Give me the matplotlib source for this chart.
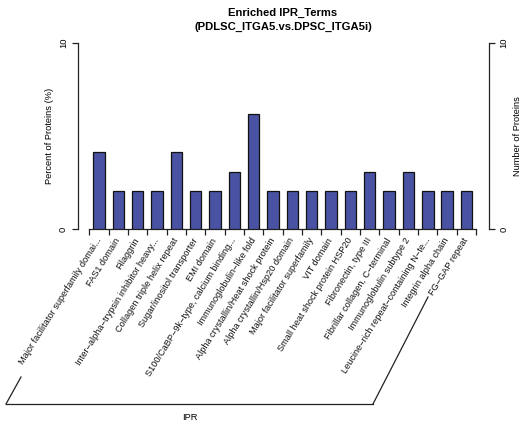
import matplotlib
matplotlib.use("Agg")
import matplotlib.pyplot as plt
from matplotlib.lines import Line2D
import matplotlib.transforms as mtransforms

plt.rcParams['font.family'] = ['Liberation Sans', 'DejaVu Sans']

terms = [
    "Major facilitator superfamily domai...",
    "FAS1 domain",
    "Filaggrin",
    "Inter\u2212alpha\u2212trypsin inhibitor heavy...",
    "Collagen triple helix repeat",
    "Sugar/inositol transporter",
    "EMI domain",
    "S100/CaBP\u22129k\u2212type, calcium binding...",
    "Immunoglobulin\u2212like fold",
    "Alpha crystallin/Heat shock protein",
    "Alpha crystallin/Hsp20 domain",
    "Major facilitator superfamily",
    "VIT domain",
    "Small heat shock protein HSP20",
    "Fibronectin, type III",
    "Fibrillar collagen, C\u2212terminal",
    "Immunoglobulin subtype 2",
    "Leucine\u2212rich repeat\u2212containing N\u2212te...",
    "Integrin alpha chain",
    "FG\u2212GAP repeat",
]
percent = [4.12, 2.06, 2.06, 2.06, 4.12, 2.06, 2.06, 3.09, 6.19, 2.06,
           2.06, 2.06, 2.06, 2.06, 3.09, 2.06, 3.09, 2.06, 2.06, 2.06]
y_ticks = [0, 10]

W, H = 519, 424
fig = plt.figure(figsize=(W / 100, H / 100), dpi=100)
fig.patch.set_facecolor('white')

left, right, top, bottom = 78, 489, 42.7, 229.3
ax = fig.add_axes([left / W, 1 - bottom / H, (right - left) / W, (bottom - top) / H])

x = list(range(len(terms)))
ax.bar(x, percent, width=0.6, color='#4A53A3', edgecolor='#111111', linewidth=0.9, zorder=3)

ax.set_xlim(-1.085, 20.17)
ax.set_ylim(0, 10)

ax.spines['top'].set_visible(False)
for s in ['left', 'right', 'bottom']:
    ax.spines[s].set_linewidth(0.9)
    ax.spines[s].set_color('#222222')
ax.spines['left'].set_bounds(0, 10)
ax.spines['right'].set_bounds(0, 10)
ax.spines['bottom'].set_bounds(-0.5, len(terms) - 0.5)

ax.set_xticks([i - 0.5 for i in range(len(terms) + 1)])
ax.set_xticklabels([])
ax.tick_params(axis='x', direction='out', length=4.3, width=0.9, color='#222222')

ax.set_yticks(y_ticks)
ax.set_yticklabels([str(v) for v in y_ticks], rotation=90, va='center', fontsize=6.8)
ax.tick_params(axis='y', direction='out', length=4.3, width=0.9, pad=3, color='#222222')

ax2 = ax.twinx()
ax2.set_ylim(0, 10)
for s in ['top', 'left', 'bottom', 'right']:
    ax2.spines[s].set_visible(False)
ax2.set_yticks(y_ticks)
ax2.set_yticklabels([str(v) for v in y_ticks], rotation=90, va='center', fontsize=6.8)
ax2.tick_params(axis='y', direction='out', length=4.3, width=0.9, pad=3, color='#222222')

trans = mtransforms.blended_transform_factory(ax.transData, ax.transAxes)
for i, t in enumerate(terms):
    ax.text(i + 0.0, -0.05, t, transform=trans, rotation=58, ha='right', va='center',
            rotation_mode='anchor', fontsize=6.6, color='#111111')

fig.text(283 / W, 1 - 13 / H, "Enriched IPR_Terms", ha='center', va='center',
         fontsize=8.1, fontweight='bold')
fig.text(283 / W, 1 - 27 / H, "(PDLSC_ITGA5.vs.DPSC_ITGA5i)", ha='center', va='center',
         fontsize=8.1, fontweight='bold')

fig.text(49 / W, 1 - 136 / H, "Percent of Proteins (%)", rotation=90, ha='center',
         va='center', fontsize=6.7)
fig.text(517 / W, 1 - 136 / H, "Number of Proteins", rotation=90, ha='center',
         va='center', fontsize=6.7)

# bracket outlining the category labels
lc = '#222222'
fig.add_artist(Line2D([6 / W, 21 / W], [1 - 404 / H, 1 - 377 / H], color=lc, lw=0.9))
fig.add_artist(Line2D([6 / W, 373 / W], [1 - 404 / H, 1 - 404 / H], color=lc, lw=0.9))
fig.add_artist(Line2D([373 / W, 428 / W], [1 - 404 / H, 1 - 297 / H], color=lc, lw=0.9))
fig.text(190 / W, 1 - 417 / H, "IPR", ha='center', va='center', fontsize=6.7)

fig.savefig('out.png', dpi=100)
